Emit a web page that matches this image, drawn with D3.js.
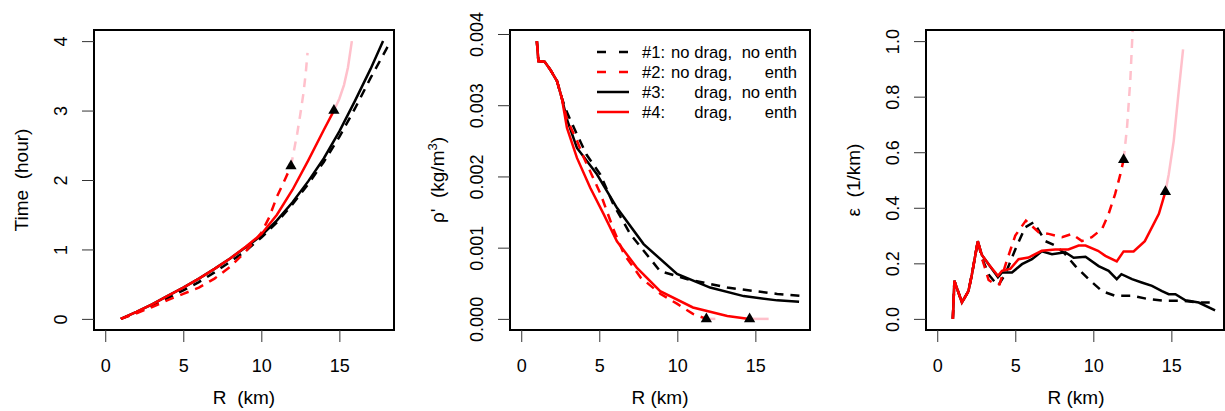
<!DOCTYPE html>
<html>
<head>
<meta charset="utf-8">
<script src="https://d3js.org/d3.v7.min.js"></script>
<style>
  body { margin:0; background:#fff; }
  text { font-family:"Liberation Sans", Arial, sans-serif; fill:#000; }
  .tick text { font-size:18px; }
  .title { font-size:19px; white-space:pre; }
  .legend { font-size:16.6px; white-space:pre; }
</style>
</head>
<body>
<script>
// ---- panel 1 : time (hour) vs R (km)
var timeR1 = [1,2,3,4,5,6,7,8,9,10,11,12,13,14,15,16,17,18,18.27];
var time1  = [0,0.09,0.19,0.3,0.41,0.53,0.67,0.82,0.98,1.17,1.39,1.65,1.94,2.26,2.62,3.03,3.47,3.88,4.0];
var timeR2 = [1,2,3,4,5,6,7,8,9,10,10.5,11,11.5,11.9];
var time2  = [0,0.08,0.17,0.27,0.36,0.45,0.58,0.75,0.97,1.24,1.46,1.76,2.0,2.2];
var timeR2x = [11.9,12.3,12.5,12.7,12.85,12.96];
var time2x  = [2.2,2.67,2.95,3.25,3.55,3.83];
var timeR3 = [1,2,3,4,5,6,7,8,9,10,11,12,13,14,15,16,17,17.8];
var time3  = [0,0.1,0.21,0.33,0.45,0.58,0.72,0.87,1.03,1.2,1.42,1.68,1.98,2.31,2.7,3.14,3.6,4.0];
var timeR4 = [1,2,3,4,5,6,7,8,9,10,11,12,13,14,14.65];
var time4  = [0,0.1,0.21,0.33,0.45,0.58,0.72,0.87,1.04,1.22,1.5,1.86,2.28,2.72,3.0];
var timeR4x = [14.65,15.0,15.3,15.55,15.8];
var time4x  = [3.0,3.17,3.37,3.62,4.0];
var timeTicks = [0,1,2,3,4];

// ---- panel 2 : rho' (kg/m3) vs R (km)
var rhoR1 = [1,1.1,1.5,1.86,2.29,2.6,2.93,3.57,4.2,5.06,5.9,6.99,8.9,10.6,13.2,16.4,18.2];
var rho1  = [0.0039,0.00362,0.00361,0.0035,0.00334,0.0031,0.0029,0.00259,0.0023,0.00203,0.00161,0.00119,0.00067,0.00056,0.00044,0.00035,0.00032];
var rhoR2 = [1,1.1,1.5,1.86,2.29,2.6,2.93,3.57,4.02,5.09,5.94,6.58,7.65,8.93,10.0,11.0,11.86];
var rho2  = [0.0039,0.00362,0.00361,0.0035,0.00334,0.0031,0.0028,0.0025,0.00226,0.00175,0.00124,0.00091,0.00058,0.00035,0.00021,0.00007,0];
var rhoR2x = [11.86,12.5];
var rho2x  = [0,0];
var rhoR3 = [1,1.1,1.5,1.86,2.29,2.6,2.93,3.57,4.85,6.13,7.84,9.98,12.1,14.25,16.4,17.8];
var rho3  = [0.0039,0.00362,0.00361,0.0035,0.00334,0.0031,0.0028,0.0024,0.00203,0.00156,0.00105,0.00063,0.00044,0.00032,0.00026,0.00024];
var rhoR4 = [1,1.1,1.5,1.86,2.29,2.6,2.93,3.57,4.42,5.28,6.13,7.4,8.9,11.0,13.2,14.63];
var rho4  = [0.0039,0.00362,0.00361,0.0035,0.00334,0.0031,0.00268,0.00226,0.00184,0.00147,0.00109,0.00072,0.00039,0.00016,0.00004,0];
var rhoR4x = [14.63,15.85];
var rho4x  = [0,0];
var rhoTicks = [0,0.001,0.002,0.003,0.004];

// ---- panel 3 : epsilon (1/km) vs R (km)
var epsR1 = [1,1.1,1.58,2.0,2.22,2.6,2.86,3.29,3.89,4.36,5.0,5.64,6.18,6.92,7.56,8.2,8.85,9.7,10.56,11.4,12.48,13.55,14.6,15.7,16.75,17.5];
var eps1  = [0,0.137,0.059,0.1,0.16,0.28,0.22,0.16,0.119,0.161,0.25,0.33,0.348,0.28,0.264,0.233,0.19,0.143,0.1,0.083,0.083,0.071,0.065,0.065,0.059,0.059];
var epsR2 = [1,1.1,1.58,2.0,2.22,2.6,2.86,3.29,3.7,4.0,4.4,5.0,5.68,6.5,7.14,7.99,8.63,9.27,9.9,10.56,10.98,11.4,11.73,11.94];
var eps2  = [0,0.137,0.059,0.1,0.16,0.28,0.22,0.14,0.125,0.125,0.2,0.3,0.354,0.312,0.306,0.294,0.306,0.28,0.294,0.324,0.378,0.45,0.52,0.573];
var epsR2x = [11.94,12.16,12.37,12.52];
var eps2x  = [0.573,0.69,0.86,1.04];
var epsR3 = [1,1.1,1.58,2.0,2.22,2.6,2.86,3.29,3.89,4.15,4.79,5.43,6.07,6.7,7.35,8.2,8.74,9.5,10.34,10.98,11.5,11.8,12.48,13.1,13.76,14.4,14.83,15.26,15.9,16.75,17.8];
var eps3  = [0,0.137,0.059,0.1,0.16,0.28,0.23,0.197,0.15,0.167,0.167,0.197,0.215,0.243,0.233,0.24,0.22,0.224,0.19,0.173,0.143,0.161,0.143,0.131,0.119,0.1,0.089,0.089,0.067,0.059,0.031];
var epsR4 = [1,1.1,1.58,2.0,2.22,2.6,2.86,3.29,3.89,4.15,4.68,5.21,5.85,6.7,7.56,8.4,9.06,9.5,10.3,10.77,11.5,11.94,12.58,13.3,14.2,14.62];
var eps4  = [0,0.137,0.059,0.1,0.16,0.28,0.23,0.197,0.155,0.173,0.18,0.215,0.221,0.245,0.25,0.25,0.264,0.264,0.245,0.227,0.207,0.243,0.243,0.28,0.378,0.458];
var epsR4x = [14.62,14.83,15.15,15.47,15.75];
var eps4x  = [0.458,0.52,0.64,0.82,0.97];
var epsTicks = [0,0.2,0.4,0.6,0.8,1.0];

var rTicks = [0,5,10,15];
var legendLabels = [["#1:","no drag,","no enth"],["#2:","no drag,","enth"],["#3:","drag,","no enth"],["#4:","drag,","enth"]];

var width=1225,height=411;
var svg=d3.select("body").append("svg").attr("width",width).attr("height",height);

var plotTop=30,plotBottom=330;

function panel(id,left,w,ydom,yticks,yfmt,series,xtitle,ytitle){
  var x=d3.scaleLinear().domain([-0.72,18.5]).range([left,left+300]);
  var y=d3.scaleLinear().domain(ydom).range([plotBottom,plotTop]);
  var g=svg.append("g");

  g.append("clipPath").attr("id","clip"+id).append("rect")
   .attr("x",left).attr("y",plotTop).attr("width",w).attr("height",plotBottom-plotTop);

  var line=d3.line().x(function(d){return x(d[0]);}).y(function(d){return y(d[1]);});
  var plot=g.append("g").attr("clip-path","url(#clip"+id+")");
  series.forEach(function(s){
    var pts=s.x.map(function(v,i){return [v,s.y[i]];});
    plot.append("path").attr("d",line(pts)).attr("fill","none")
        .attr("stroke",s.color).attr("stroke-width",2.5)
        .attr("stroke-dasharray",s.dash?"9,7":null);
  });
  // triangles where the red curves turn pink
  series.filter(function(s){return s.color==="red";}).forEach(function(s){
    var n=s.x.length-1;
    g.append("path").attr("d",d3.symbol(d3.symbolTriangle,55)())
        .attr("transform","translate("+x(s.x[n])+","+y(s.y[n])+")").attr("fill","black");
  });

  g.append("rect").attr("x",left).attr("y",plotTop).attr("width",w).attr("height",plotBottom-plotTop)
   .attr("fill","none").attr("stroke","black").attr("stroke-width",2);

  var xa=g.append("g").attr("transform","translate(0,"+plotBottom+")")
    .call(d3.axisBottom(x).tickValues(rTicks).tickSize(12).tickPadding(17));
  xa.select(".domain").remove();
  xa.selectAll(".tick line").attr("stroke","#333");

  var ya=g.append("g").attr("transform","translate("+left+",0)")
    .call(d3.axisLeft(y).tickValues(yticks).tickSize(12).tickFormat(d3.format(yfmt)));
  ya.select(".domain").remove();
  ya.selectAll(".tick line").attr("stroke","#333");
  ya.selectAll(".tick text").attr("x",0).attr("dy",0).attr("text-anchor","middle")
    .attr("transform","translate(-27,0) rotate(-90)");
  xa.attr("font-family",null).attr("font-size",null);
  ya.attr("font-family",null).attr("font-size",null);

  g.append("text").classed("title",true).attr("x",left+150).attr("y",404)
   .attr("text-anchor","middle").text(xtitle);
  var yt=g.append("text").classed("title",true).attr("text-anchor","middle")
   .attr("transform","translate("+(left-66)+","+((plotTop+plotBottom)/2)+") rotate(-90)");
  ytitle(yt);
}

panel(1,94,300,[-0.16,4.16],timeTicks,"d",[
  {x:timeR1,y:time1,color:"black",dash:true},
  {x:timeR3,y:time3,color:"black",dash:false},
  {x:timeR2x,y:time2x,color:"pink",dash:true},
  {x:timeR4x,y:time4x,color:"pink",dash:false},
  {x:timeR2,y:time2,color:"red",dash:true},
  {x:timeR4,y:time4,color:"red",dash:false}
],"R  (km)",function(t){t.text("Time  (hour)");});

panel(2,510,300,[-0.000156,0.004056],rhoTicks,".3f",[
  {x:rhoR1,y:rho1,color:"black",dash:true},
  {x:rhoR3,y:rho3,color:"black",dash:false},
  {x:rhoR2x,y:rho2x,color:"pink",dash:true},
  {x:rhoR4x,y:rho4x,color:"pink",dash:false},
  {x:rhoR2,y:rho2,color:"red",dash:true},
  {x:rhoR4,y:rho4,color:"red",dash:false}
],"R (km)",function(t){
  t.append("tspan").text("ρ'  (kg/m");
  t.append("tspan").attr("dy",-7).attr("font-size",13).text("3");
  t.append("tspan").attr("dy",7).text(")");
});

panel(3,926,298,[-0.04,1.04],epsTicks,".1f",[
  {x:epsR1,y:eps1,color:"black",dash:true},
  {x:epsR3,y:eps3,color:"black",dash:false},
  {x:epsR2x,y:eps2x,color:"pink",dash:true},
  {x:epsR4x,y:eps4x,color:"pink",dash:false},
  {x:epsR2,y:eps2,color:"red",dash:true},
  {x:epsR4,y:eps4,color:"red",dash:false}
],"R (km)",function(t){t.text("ε  (1/km)");});

// legend in panel 2
var legendStyle=[{color:"black",dash:true},{color:"red",dash:true},{color:"black",dash:false},{color:"red",dash:false}];
var leg=svg.append("g").selectAll(".legends").data(legendLabels).enter().append("g")
  .classed("legends",true)
  .attr("transform",function(d,i){return "translate(0,"+(52+i*20)+")";});
leg.append("line").attr("x1",597).attr("x2",629).attr("y1",0).attr("y2",0)
  .attr("stroke",function(d,i){return legendStyle[i].color;}).attr("stroke-width",2.5)
  .attr("stroke-dasharray",function(d,i){return legendStyle[i].dash?"9,13":null;});
leg.append("text").classed("legend",true).attr("x",642).attr("y",6).text(function(d){return d[0];});
leg.append("text").classed("legend",true).attr("x",732).attr("y",6).attr("text-anchor","end").text(function(d){return d[1];});
leg.append("text").classed("legend",true).attr("x",797).attr("y",6).attr("text-anchor","end").text(function(d){return d[2];});
</script>
</body>
</html>
